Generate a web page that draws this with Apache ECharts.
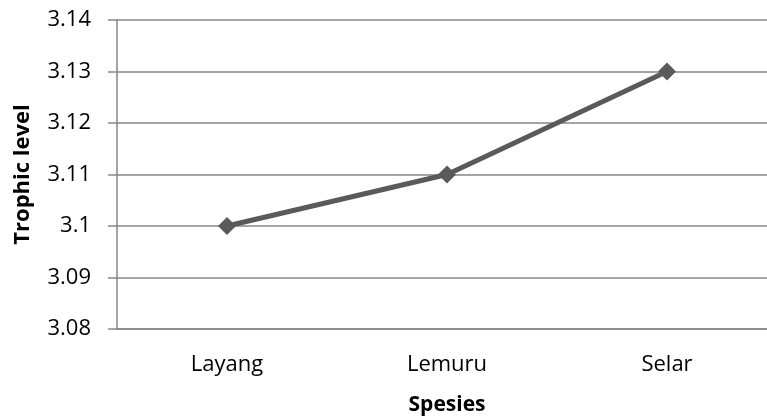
<!DOCTYPE html>
<html>
<head>
<meta charset="utf-8">
<script src="https://cdn.jsdelivr.net/npm/echarts@6/dist/echarts.min.js"></script>
<style>
  html, body { margin: 0; padding: 0; background: #fff; }
  #chart { width: 767px; height: 416px; }
</style>
</head>
<body>
<div id="chart"></div>
<script>
// Trophic level per species
const species = ['Layang', 'Lemuru', 'Selar'];
const trophicLevel = [3.10, 3.11, 3.13];
const yTicks = { min: 3.08, max: 3.14, step: 0.01 };

const FONT = '"Open Sans", sans-serif';
const GRID_GRAY = '#868686';

const chart = echarts.init(document.getElementById('chart'), null, { renderer: 'canvas' });
chart.setOption({
  animation: false,
  backgroundColor: '#ffffff',
  // plot area runs a little past the right edge of the canvas
  grid: { left: 117, top: 20, width: 660, bottom: 87, containLabel: false, outerBoundsMode: 'none' },
  xAxis: {
    type: 'category',
    data: species,
    boundaryGap: true,
    name: 'Spesies',
    nameLocation: 'middle',
    nameGap: 66,
    nameTextStyle: { fontFamily: FONT, fontSize: 21, fontWeight: 'bold', color: '#000' },
    axisLine: { show: true, lineStyle: { color: GRID_GRAY, width: 1.5 } },
    axisTick: { show: false },
    axisLabel: { fontFamily: FONT, fontSize: 22, color: '#000', margin: 25 },
    splitLine: { show: false }
  },
  yAxis: {
    type: 'value',
    min: yTicks.min,
    max: yTicks.max,
    interval: yTicks.step,
    name: 'Trophic level',
    nameLocation: 'middle',
    nameGap: 83,
    nameTextStyle: { fontFamily: FONT, fontSize: 22, fontWeight: 'bold', color: '#000' },
    axisLine: { show: true, lineStyle: { color: GRID_GRAY, width: 1.5 } },
    axisTick: { show: true, inside: false, length: 9, lineStyle: { color: GRID_GRAY, width: 1.5 } },
    axisLabel: {
      fontFamily: FONT, fontSize: 22, color: '#000', margin: 26,
      formatter: v => String(+v.toFixed(2))
    },
    splitLine: { show: true, lineStyle: { color: GRID_GRAY, width: 1.5 } }
  },
  series: [{
    type: 'line',
    data: trophicLevel,
    symbol: 'diamond',
    symbolSize: 18,
    lineStyle: { color: '#5a5a5a', width: 5 },
    itemStyle: { color: '#5a5a5a' },
    z: 5
  }]
});
</script>
</body>
</html>
